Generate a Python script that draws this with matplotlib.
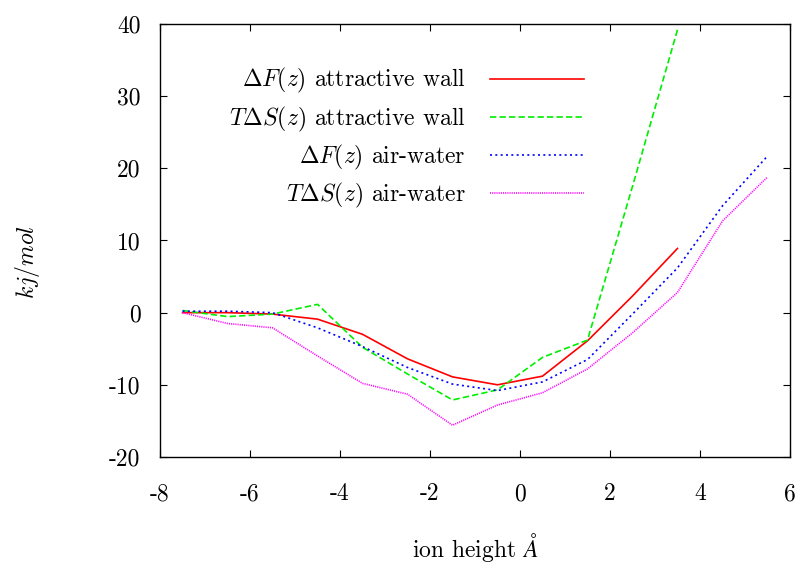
import matplotlib
matplotlib.use("Agg")
import matplotlib.pyplot as plt

plt.rcParams["font.family"] = ["cmr10", "DejaVu Serif"]
plt.rcParams["mathtext.fontset"] = "cm"
plt.rcParams["axes.unicode_minus"] = False
plt.rcParams["axes.formatter.use_mathtext"] = False

# ion height (angstrom)
z = [-7.5, -6.5, -5.5, -4.5, -3.5, -2.5, -1.5, -0.5, 0.5, 1.5, 2.5, 3.5, 4.5, 5.5]

# kj/mol
dF_wall = [0.0, 0.0, -0.2, -0.9, -3.0, -6.4, -8.9, -10.0, -8.8, -3.9, 2.3, 8.9]
TdS_wall = [0.3, -0.55, -0.2, 1.15, -4.8, -8.5, -12.1, -10.7, -6.2, -3.8, 17.5, 39.2]
dF_air = [0.2, 0.2, 0.0, -2.1, -4.7, -7.6, -9.9, -10.8, -9.6, -6.5, -0.2, 6.2, 14.8, 21.7]
TdS_air = [0.0, -1.5, -2.1, -6.0, -9.8, -11.3, -15.6, -12.8, -11.1, -7.8, -2.8, 2.8, 12.7, 18.8]

labels = [
    r"$\Delta F(z)$ attractive wall",
    r"$T\Delta S(z)$ attractive wall",
    r"$\Delta F(z)$ air-water",
    r"$T\Delta S(z)$ air-water",
]

fig = plt.figure(figsize=(7.99, 5.65), dpi=100)
ax = fig.add_axes([0.2003, 0.1912, 0.7884, 0.7663])

lw = 1.2
ax.plot(z[:len(dF_wall)], dF_wall, color="#ff0000", lw=lw, label=labels[0])
ax.plot(z[:len(TdS_wall)], TdS_wall, color="#00ee00", lw=lw,
        dashes=(3.8, 1.9), label=labels[1])
ax.plot(z, dF_air, color="#0000ff", lw=lw, dashes=(1.2, 2.0), label=labels[2])
ax.plot(z, TdS_air, color="#ff00ff", lw=lw, dashes=(0.65, 0.65), label=labels[3])

ax.set_xlim(-8, 6)
ax.set_ylim(-20, 40)
ax.set_xticks(range(-8, 7, 2))
ax.set_yticks(range(-20, 41, 10))

ax.tick_params(direction="in", length=5, width=0.8, top=True, right=True,
               labelsize=17)
ax.tick_params(axis="x", pad=19)
ax.tick_params(axis="y", pad=14)
for s in ax.spines.values():
    s.set_linewidth(1.0)

ax.set_xlabel(r"ion height $\AA$", fontsize=17)
ax.set_ylabel(r"$kj/mol$", fontsize=17)
ax.xaxis.set_label_coords(0.5, -0.172)
ax.yaxis.set_label_coords(-0.187, 0.45)

# markerfirst=False right-aligns the rows, so texts end together like gnuplot
ax.legend(loc="upper right", bbox_to_anchor=(0.688, 0.924), frameon=False,
          fontsize=17, markerfirst=False, handlelength=4.0,
          handletextpad=1.0, labelspacing=0.38, borderaxespad=0)

fig.savefig("out.png", dpi=100)
